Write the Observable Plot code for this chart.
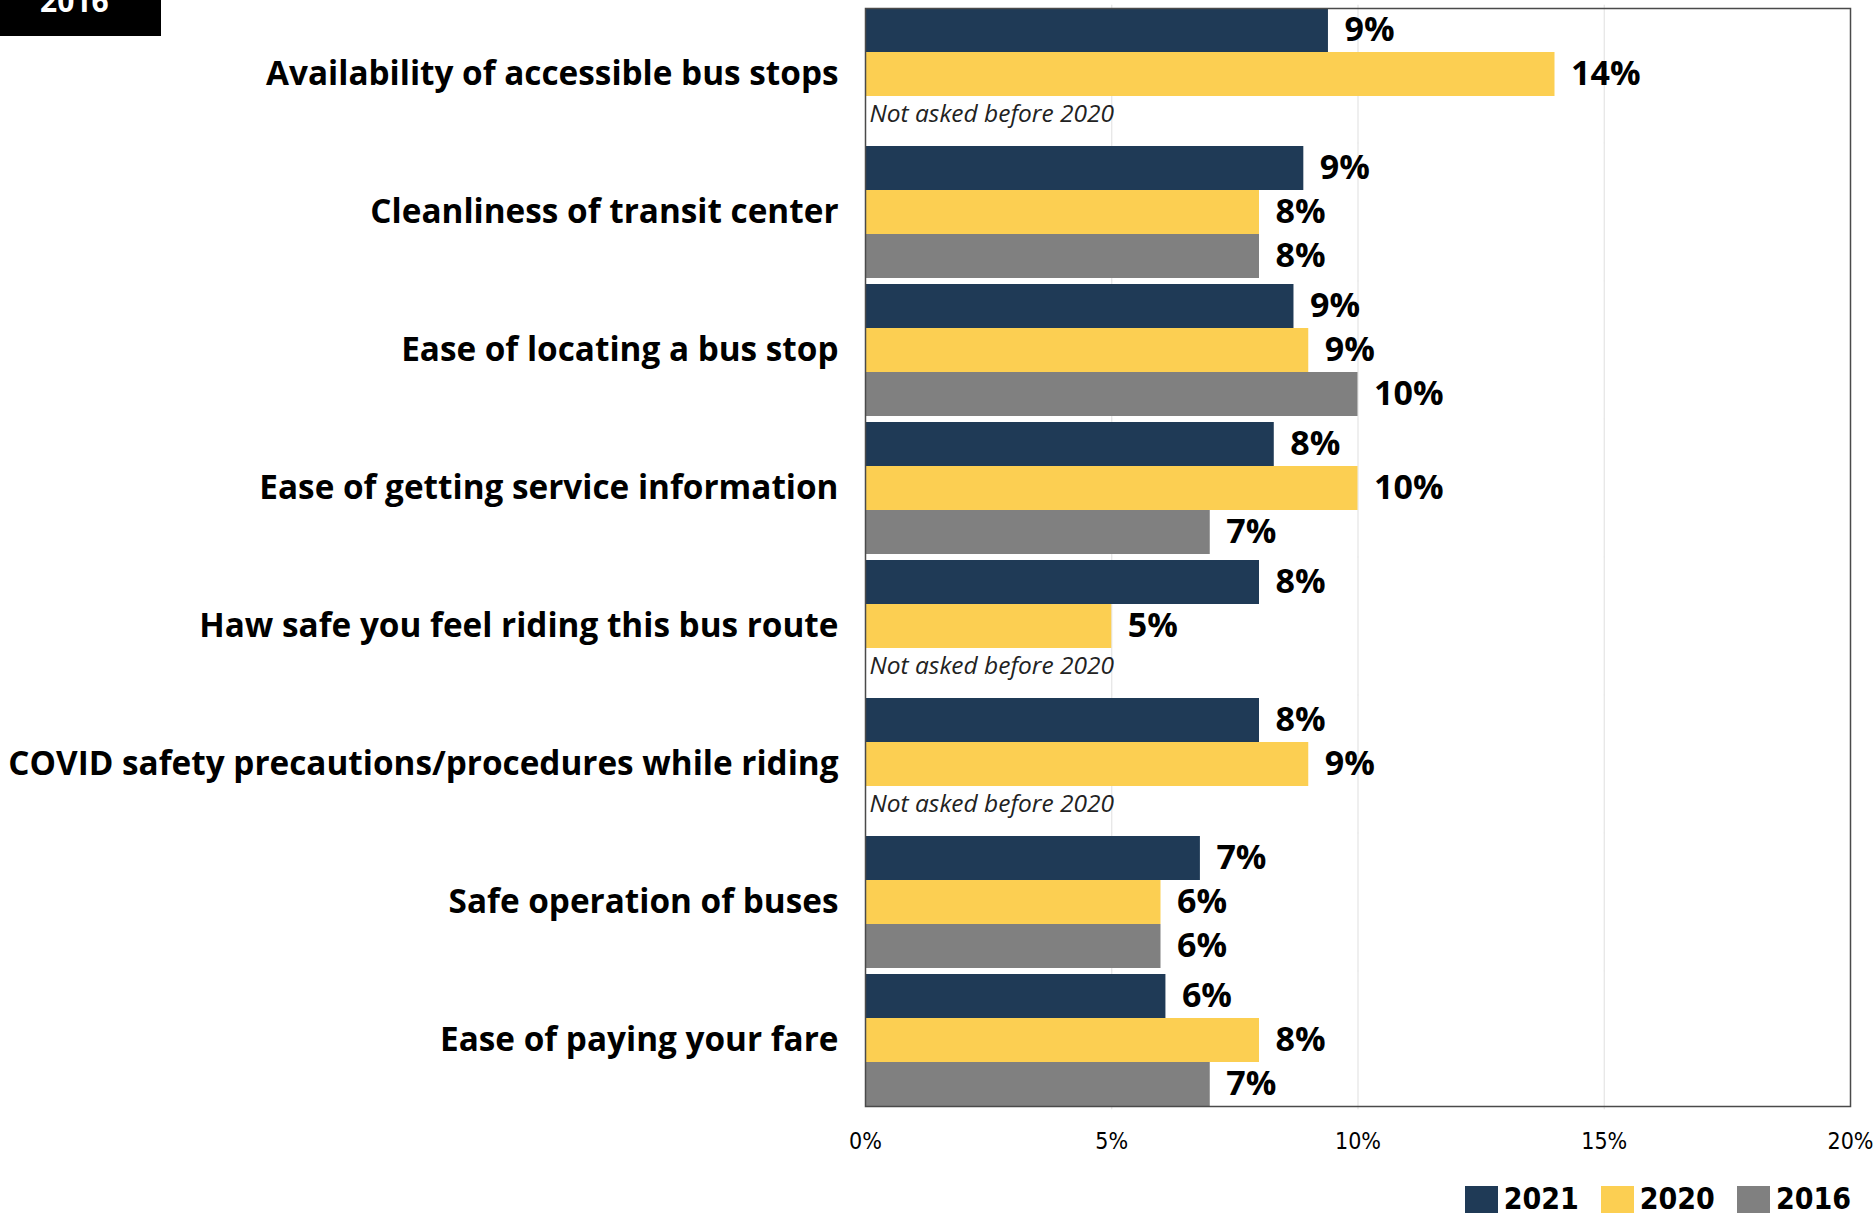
<!DOCTYPE html>
<html>
<head>
<meta charset="utf-8">
<script src="https://cdn.jsdelivr.net/npm/d3@7"></script>
<script src="https://cdn.jsdelivr.net/npm/@observablehq/plot@0.6"></script>
<style>
  html, body { margin: 0; padding: 0; background: #fff; }
  #wrap { position: relative; width: 1875px; height: 1217px; overflow: hidden; }
  #badge { position: absolute; left: 0; top: 0; width: 161px; height: 36px; background: #000; overflow: hidden; }
  #badge span { position: absolute; left: 40px; top: -20px; color: #fff; font: bold 30px "Open Sans", sans-serif; }
  #legend { position: absolute; right: 24px; top: 1184px; display: flex; align-items: center; gap: 22px; line-height: 1;
            font-family: "DejaVu Sans Condensed", "DejaVu Sans", sans-serif; font-stretch: condensed; font-weight: bold; font-size: 30px; color: #000; }
  #legend .item { display: flex; align-items: center; gap: 6px; }
  #legend .sw { width: 33px; height: 27px; display: inline-block; }
  g[aria-label="fy-axis tick label"] text { font: bold 33.3px "Open Sans", sans-serif; }
  g[aria-label="x-axis tick label"] text { font: 23px "Liberation Sans Narrow", "DejaVu Sans Condensed", sans-serif; }
</style>
</head>
<body>
<div id="wrap">
  <div id="chart"></div>
  <div id="badge"><span>2016</span></div>
  <div id="legend"></div>
</div>
<script>
const categories = [
  "Availability of accessible bus stops",
  "Cleanliness of transit center",
  "Ease of locating a bus stop",
  "Ease of getting service information",
  "Haw safe you feel riding this bus route",
  "COVID safety precautions/procedures while riding",
  "Safe operation of buses",
  "Ease of paying your fare"
];
const years = ["2021", "2020", "2016"];
const values2021 = [9.4, 8.9, 8.7, 8.3, 8.0, 8.0, 6.8, 6.1];
const values2020 = [14.0, 8.0, 9.0, 10.0, 5.0, 9.0, 6.0, 8.0];
const values2016 = [null, 8.0, 10.0, 7.0, null, null, 6.0, 7.0];
const colors = ["#1f3a56", "#fccf52", "#808080"];
const xTicks = [0, 5, 10, 15, 20];
const gridTicks = [5, 10, 15];
const notAskedText = "Not asked before 2020";

const series = [values2021, values2020, values2016];
const data = [];
categories.forEach((c, i) => {
  years.forEach((y, j) => {
    const v = series[j][i];
    if (v != null) data.push({category: c, year: y, value: v});
  });
});
const notAsked = categories
  .filter((c, i) => values2016[i] == null)
  .map(c => ({category: c, year: "2016", value: 0}));

const chart = Plot.plot({
  width: 1875,
  height: 1172,
  marginLeft: 865,
  marginRight: 25,
  marginTop: 3,
  marginBottom: 62,
  style: {background: "transparent", fontFamily: "Open Sans, sans-serif"},
  x: {domain: [0, 20], ticks: xTicks, tickFormat: d => d + "%", tickSize: 0, tickPadding: 26, label: null},
  y: {domain: years, padding: 0, axis: null},
  fy: {domain: categories, paddingInner: 0.045, paddingOuter: 0.02, axis: "left", tickSize: 0, tickPadding: 27, label: null},
  color: {domain: years, range: colors},
  marks: [
    Plot.ruleX(data.filter(d => d.year === "2021").flatMap(d => gridTicks.map(t => ({category: d.category, tick: t}))),
      {x: "tick", fy: "category", stroke: "#e4e4e4", strokeWidth: 1.2, insetTop: -3.3, insetBottom: -3.3}),
    Plot.barX(data, {x: "value", y: "year", fy: "category", fill: "year", inset: 0}),
    Plot.text(data, {
      x: "value", y: "year", fy: "category",
      text: d => Math.round(d.value) + "%",
      textAnchor: "start", dx: 16, fontWeight: "bold", fontSize: 34, fill: "#000"
    }),
    Plot.text(notAsked, {
      x: "value", y: "year", fy: "category", text: () => notAskedText,
      textAnchor: "start", dx: 4, dy: -4, fontStyle: "italic", fontSize: 24.5, fill: "#222"
    }),
    Plot.frame({facet: "super", stroke: "#4a4a4a", strokeWidth: 1.5})
  ]
});
document.getElementById("chart").appendChild(chart);

const legend = document.getElementById("legend");
years.forEach((y, j) => {
  const item = document.createElement("div");
  item.className = "item";
  const sw = document.createElement("span");
  sw.className = "sw";
  sw.style.background = colors[j];
  const t = document.createElement("span");
  t.textContent = y;
  item.appendChild(sw);
  item.appendChild(t);
  legend.appendChild(item);
});
</script>
</body>
</html>
